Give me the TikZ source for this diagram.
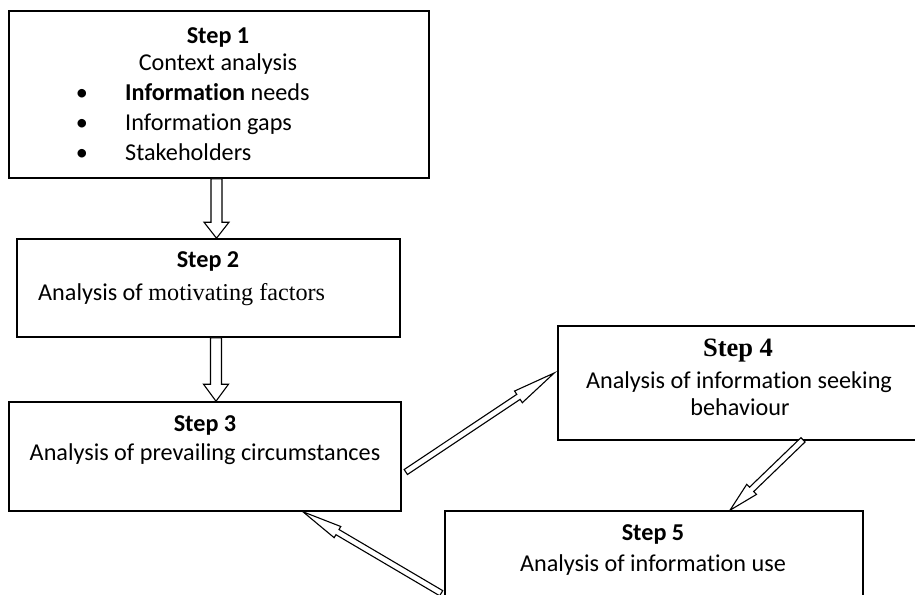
\documentclass[tikz,border=0pt]{standalone}
\usepackage{fontspec}
\setmainfont{Carlito}[Ligatures=NoCommon]
\newfontfamily\timesfont{Liberation Serif}
\usetikzlibrary{calc}

\tikzset{
  stepbox/.style={draw, line width=1.6pt, inner sep=0pt, fill=white},
  txt/.style={inner sep=0pt, text height=0.64em, text depth=0pt, font=\fontsize{24.2}{29}\selectfont},
  head/.style={txt, font=\fontsize{24.2}{29}\selectfont\bfseries},
  arrline/.style={draw, line width=1.1pt, fill=white, line join=miter},
}

% hollow block arrow: from, to, half shaft, half head, head length
\newcommand{\hollowarrow}[5]{%
  \coordinate (hb) at ($(#2)!#5!(#1)$);
  \draw[arrline] ($(#1)!#3!90:(#2)$) -- ($(hb)!#3!90:(#2)$) -- ($(hb)!#4!90:(#2)$) -- (#2)
    -- ($(hb)!#4!-90:(#2)$) -- ($(hb)!#3!-90:(#2)$) -- ($(#1)!#3!-90:(#2)$) -- cycle;
}

\begin{document}
\begin{tikzpicture}[x=1pt, y=-1pt]

  \useasboundingbox (0,0) rectangle (915,594);
  \clip (0,0) rectangle (915,594);

  % --- boxes ---
  \node[stepbox, minimum width=420pt, minimum height=167pt] (s1) at (219,94.5) {};
  \node[stepbox, minimum width=383pt, minimum height=98pt] (s2) at (208.5,288) {};
  \node[stepbox, minimum width=392pt, minimum height=109pt] (s3) at (205,456.5) {};
  % box 4 runs off the right edge
  \node[stepbox, draw=none, minimum width=420pt, minimum height=112pt] (s4) at (769,383) {};
  \draw[line width=1.6pt] (s4.north east) -- (s4.north west) -- (s4.south west) -- (s4.south east);
  \node[stepbox, minimum width=418pt, minimum height=129pt] (s5) at (654,575.5) {};

  % --- step 1 ---
  \node[head] (s1a) at (218,40) {Step 1};
  \node[txt] (s1b) at (218,67) {Context analysis};
  \foreach \y/\t [count=\i] in {97/{\textbf{Information} needs}, 127/Information gaps, 157/Stakeholders} {
    \node[txt] (b\i) at (82,\y) {\textbullet};
    \node[txt, anchor=west] (l\i) at (125,\y) {\t};
  }

  % --- step 2 ---
  \node[head] (s2a) at (208,264) {Step 2};
  \node[txt, anchor=west] (s2b) at (38,297) {Analysis of {\timesfont motivating factors}};

  % --- step 3 ---
  \node[head] (s3a) at (205,428) {Step 3};
  \node[txt] (s3b) at (205,457) {Analysis of prevailing circumstances};

  % --- step 4 ---
  \node[txt, font=\fontsize{26.5}{31}\selectfont\timesfont\bfseries] (s4a) at (738,353) {Step 4};
  \node[txt] (s4b) at (739,385) {Analysis of information seeking};
  \node[txt] (s4c) at (740,412) {behaviour};

  % --- step 5 ---
  \node[head] (s5a) at (653,537) {Step 5};
  \node[txt] (s5b) at (653,568) {Analysis of information use};

  % --- arrows ---
  \coordinate (t12) at ($(s1.south)+(-2.5,0)$);
  \coordinate (h12) at (t12 |- s2.north);
  \hollowarrow{t12}{h12}{5.5pt}{12.5pt}{16pt}

  \coordinate (t23) at ($(s2.south)+(7.5,0)$);
  \coordinate (h23) at (t23 |- s3.north);
  \hollowarrow{t23}{h23}{5.5pt}{12.5pt}{17pt}

  \coordinate (t34) at ($(s3.east)+(4,15.5)$);
  \coordinate (h34) at ($(s4.west)+(-4,-10)$);
  \hollowarrow{t34}{h34}{3pt}{7pt}{43pt}

  \coordinate (t45) at ($(s4.south)+(34,0)$);
  \coordinate (h45) at ($(s5.north)+(76,0)$);
  \hollowarrow{t45}{h45}{3pt}{7pt}{30pt}

  \coordinate (t53) at ($(s5.north west)+(-3,83)$);
  \coordinate (h53) at ($(s3.south)+(98,0)$);
  \hollowarrow{t53}{h53}{3pt}{6.5pt}{40pt}

\end{tikzpicture}
\end{document}
